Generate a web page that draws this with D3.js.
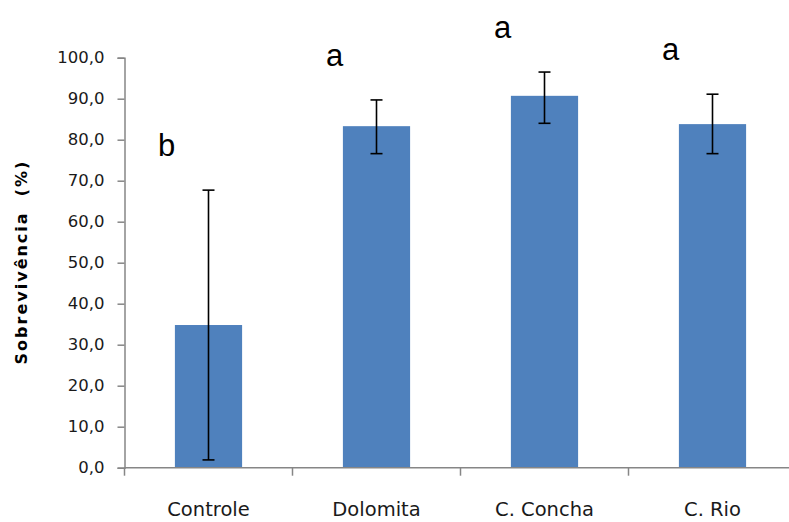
<!DOCTYPE html>
<html>
<head>
<meta charset="utf-8">
<script src="https://cdn.jsdelivr.net/npm/d3@7"></script>
<style>
  html, body { margin: 0; padding: 0; background: #fff; }
  svg { display: block; }
</style>
</head>
<body>
<svg id="chart" width="789" height="522"></svg>
<script>
// ---- data ----
const categories = ["Controle", "Dolomita", "C. Concha", "C. Rio"];
const means      = [34.8, 83.3, 90.7, 83.8];
const errLow     = [1.9, 76.6, 84.0, 76.6];
const errHigh    = [67.7, 89.7, 96.5, 91.1];
const letters    = ["b", "a", "a", "a"];
const yTicks     = [0, 10, 20, 30, 40, 50, 60, 70, 80, 90, 100];
const yTitle     = "Sobrevivência  (%)";

(function () {
// ---- layout ----
const svg = d3.select("#chart");
const pLeft = 124.5, pRight = 796.5, pTop = 57.7, pBottom = 467.7;

const x = d3.scaleBand().domain(categories).range([pLeft, pRight]).paddingInner(0.6).paddingOuter(0.3);
const y = d3.scaleLinear().domain([0, 100]).range([pBottom, pTop]);

const axisColor = "#868686";
const fmt = d => d3.format(".1f")(d).replace(".", ",");

// y axis
const yAxis = svg.append("g")
  .attr("transform", `translate(${pLeft},0)`)
  .call(d3.axisLeft(y).tickValues(yTicks).tickSize(7).tickPadding(13).tickFormat(fmt));
yAxis.attr("font-size", null).attr("font-family", null);
yAxis.select(".domain").attr("stroke", axisColor).attr("stroke-width", 1.5);
yAxis.selectAll(".tick line").attr("stroke", axisColor).attr("stroke-width", 1.5);
yAxis.selectAll(".tick text")
  .attr("font-family", "DejaVu Sans, sans-serif")
  .attr("font-size", 16.5)
  .attr("fill", "#1a1a1a");

// bars
svg.append("g").selectAll("rect")
  .data(categories)
  .join("rect")
  .attr("x", d => x(d))
  .attr("width", x.bandwidth())
  .attr("y", (d, i) => y(means[i]))
  .attr("height", (d, i) => y(0) - y(means[i]))
  .attr("fill", "#4f81bd");

// x axis (category boundaries as ticks)
const boundaries = d3.range(categories.length + 1).map(i => pLeft + i * (pRight - pLeft) / categories.length);
svg.append("line")
  .attr("x1", pLeft).attr("x2", pRight)
  .attr("y1", pBottom).attr("y2", pBottom)
  .attr("stroke", axisColor).attr("stroke-width", 1.5);
svg.append("g").selectAll("line")
  .data(boundaries)
  .join("line")
  .attr("x1", d => d).attr("x2", d => d)
  .attr("y1", pBottom).attr("y2", pBottom + 8)
  .attr("stroke", axisColor).attr("stroke-width", 1.5);

svg.append("g").selectAll("text")
  .data(categories)
  .join("text")
  .attr("x", d => x(d) + x.bandwidth() / 2)
  .attr("y", 516)
  .attr("text-anchor", "middle")
  .attr("font-family", "DejaVu Sans, sans-serif")
  .attr("font-size", 19.5)
  .attr("fill", "#1a1a1a")
  .text(d => d);

// error bars
const eb = svg.append("g").attr("stroke", "#000").attr("stroke-width", 1.6);
categories.forEach((c, i) => {
  const cx = x(c) + x.bandwidth() / 2;
  eb.append("line").attr("x1", cx).attr("x2", cx).attr("y1", y(errLow[i])).attr("y2", y(errHigh[i]));
  eb.append("line").attr("x1", cx - 6).attr("x2", cx + 6).attr("y1", y(errLow[i])).attr("y2", y(errLow[i]));
  eb.append("line").attr("x1", cx - 6).attr("x2", cx + 6).attr("y1", y(errHigh[i])).attr("y2", y(errHigh[i]));
});

// significance letters
svg.append("g").selectAll("text")
  .data(categories)
  .join("text")
  .attr("x", d => x(d) + x.bandwidth() / 2 - 42)
  .attr("y", (d, i) => y(errHigh[i]) - 34)
  .attr("text-anchor", "middle")
  .attr("font-family", "Liberation Sans, Arial, sans-serif")
  .attr("font-size", 31)
  .attr("fill", "#000")
  .text((d, i) => letters[i]);

// y title
svg.append("text")
  .attr("transform", `translate(27,262) rotate(-90)`)
  .attr("text-anchor", "middle")
  .attr("font-family", "DejaVu Sans, sans-serif")
  .attr("font-weight", "bold")
  .attr("font-size", 16)
  .attr("letter-spacing", 2)
  .attr("fill", "#000")
  .style("white-space", "pre")
  .text(yTitle);
})();
</script>
</body>
</html>
